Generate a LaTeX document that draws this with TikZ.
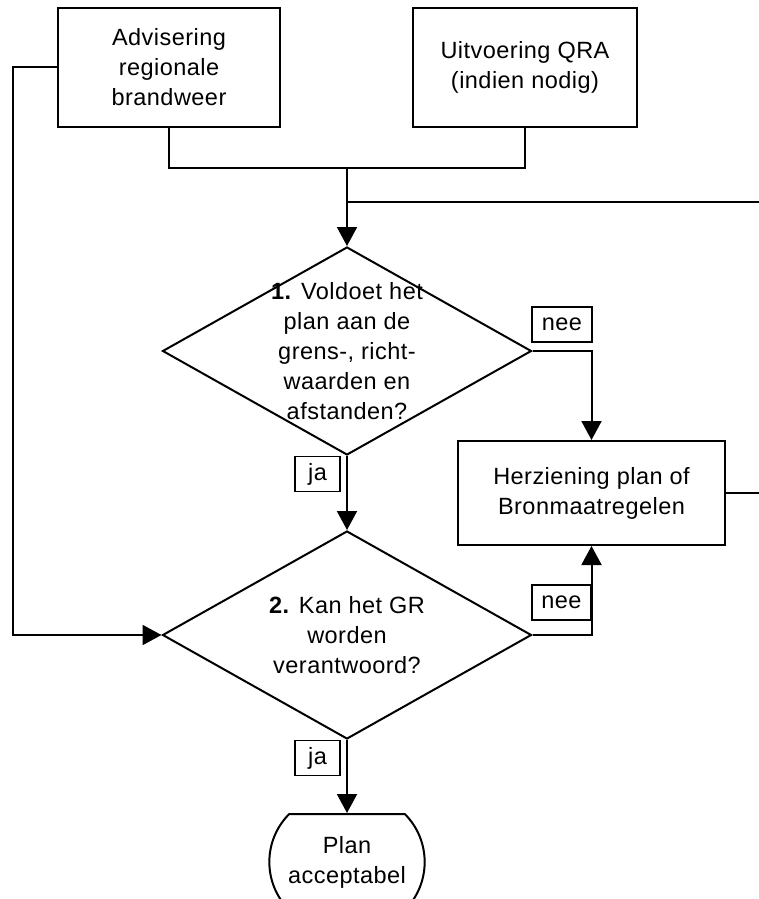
\documentclass[tikz,border=0pt]{standalone}
\usepackage{fontspec}
\setmainfont[LetterSpace=2]{Liberation Sans}
\usetikzlibrary{shapes.geometric,shapes.misc,arrows.meta,positioning}

\tikzset{
  txt/.style={font=\fontsize{23.5}{30}\selectfont, align=center},
  stap/.style={txt, draw, line width=2pt, minimum width=222pt, minimum height=119pt},
  keuze/.style={draw, diamond, line width=2pt, minimum width=369pt, minimum height=208pt, inner sep=0pt},
  antw/.style={txt, draw, line width=1.8pt, inner sep=1pt, minimum height=35pt},
  lijn/.style={line width=2pt},
  pijl/.style={lijn, -{Triangle[length=19pt,width=20pt]}},
  eind/.style={txt, draw, rounded rectangle, rounded rectangle arc length=90, line width=2pt, minimum width=162pt, minimum height=96pt}
}

\begin{document}
\begin{tikzpicture}[x=1pt,y=-1pt]
\useasboundingbox (0,0) rectangle (759,899);
% bovenste stappen
\node[stap] (advies) at (169,67.5) {Advisering\\regionale\\brandweer};
\node[stap, minimum width=224pt] (qra) at (525,67.5) {Uitvoering QRA\\(indien nodig)};
% beslissingen
\node[keuze] (vraag1) at (347,351) {};
\node[txt] (tekst1) at (vraag1) {\textbf{1.} Voldoet het\\plan aan de\\grens-, richt-\\waarden en\\afstanden?};
\node[keuze] (vraag2) at (347,635) {};
\node[txt] (tekst2) at (vraag2) {\textbf{2.} Kan het GR\\worden\\verantwoord?};
\node[stap, minimum width=267pt, minimum height=104pt] (herz) at (591.5,493) {Herziening plan of\\Bronmaatregelen};
\node[eind] (plan) at (347,862) {Plan\\acceptabel};
% hulppunten
\coordinate (samen) at (347,168);
\coordinate (terug) at (347,202);
\coordinate (rechts) at (785,202);
% verbindingen
\draw[lijn] (advies.south) |- (samen) -| (qra.south);
\draw[pijl] (samen) -- (vraag1.north);
\draw[lijn] (herz.east) -| (rechts) -- (terug);
\draw[pijl] (advies.west) -- ++(-44,0) |- (vraag2.west);
\draw[pijl] (vraag1.east) -| (herz.north);
\draw[pijl] (vraag1.south) -- (vraag2.north);
\draw[pijl] (vraag2.east) -| (herz.south);
\draw[pijl] (vraag2.south) -- (plan.north);
% ja / nee
\node[antw, minimum width=60pt] (nee1) at (562,324.5) {nee};
\node[antw, minimum width=45pt] (ja1) at (317.5,474) {ja};
\node[antw, minimum width=59pt] (nee2) at (561.5,602.5) {nee};
\node[antw, minimum width=45pt] (ja2) at (317.5,758) {ja};
\end{tikzpicture}
\end{document}
